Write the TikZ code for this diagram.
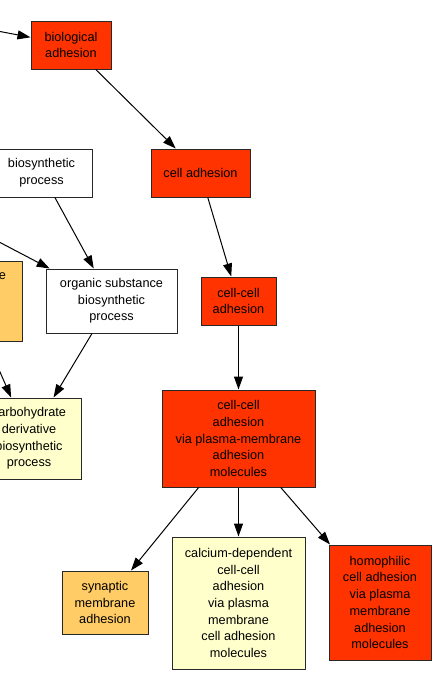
\documentclass[tikz,border=0pt]{standalone}
\usepackage{fontspec}
\setmainfont{Liberation Sans}
\usepackage{tikz}
\usetikzlibrary{arrows.meta}
\definecolor{goRed}{RGB}{255, 51, 0}
\definecolor{goOrange}{RGB}{255, 204, 102}
\definecolor{goPale}{RGB}{255, 255, 204}
\definecolor{goLine}{RGB}{40, 40, 40}

\begin{document}
\begin{tikzpicture}[
    x=1pt, y=-1pt,
    font=\fontsize{12.7}{16.7}\selectfont,
    term/.style={rectangle, draw=goLine, line width=1pt, align=center, inner sep=0pt},
    hit/.style={term, fill=goRed},
    mid/.style={term, fill=goOrange},
    low/.style={term, fill=goPale},
    none/.style={term, fill=white},
    arr/.style={-{Triangle[length=13pt, width=9pt]}, line width=1pt, black}
]
\useasboundingbox (0,0) rectangle (435,694);
\clip (0,0) rectangle (435,694);

\node[hit,  minimum width=80pt,  minimum height=48pt] (bioadh)  at (71,45)      {biological\\adhesion};
\node[hit,  minimum width=99pt,  minimum height=48pt] (celladh) at (200.5,173)  {cell adhesion};
\node[none, minimum width=101pt, minimum height=48pt] (biosyn)  at (41.5,173)   {biosynthetic\\process};
\node[none, minimum width=131pt, minimum height=64pt] (orgsub)  at (111.5,301)  {organic substance\\biosynthetic\\process};
\node[mid,  minimum width=106pt, minimum height=80pt] (carbmet) at (-31,301)    {carbohydrate\\derivative\\metabolic\\process};
\node[low,  minimum width=104pt, minimum height=81pt] (carbbio) at (29,438.5)   {carbohydrate\\derivative\\biosynthetic\\process};
\node[hit,  minimum width=75pt,  minimum height=48pt] (ccadh)   at (238.5,301)  {cell-cell\\adhesion};
\node[hit,  minimum width=153pt, minimum height=97pt] (ccpm)    at (238.5,438.5) {cell-cell\\adhesion\\via plasma-membrane\\adhesion\\molecules};
\node[mid,  minimum width=86pt,  minimum height=63pt] (synmem)  at (105,602.5)  {synaptic\\membrane\\adhesion};
\node[low,  minimum width=133pt, minimum height=132pt] (calcium) at (238.5,603) {calcium-dependent\\cell-cell\\adhesion\\via plasma\\membrane\\cell adhesion\\molecules};
\node[hit,  minimum width=102pt, minimum height=115pt] (homoph)  at (380,602.5)  {homophilic\\cell adhesion\\via plasma\\membrane\\adhesion\\molecules};

% parents outside the frame
\coordinate (adhparent) at (-100,12.5);
\coordinate (orgparent) at (-100,190);

\draw[arr] (adhparent) -- (bioadh);
\draw[arr] (bioadh) -- (celladh);
\draw[arr] (celladh) -- (ccadh);
\draw[arr] (ccadh) -- (ccpm);
\draw[arr] (biosyn) -- (orgsub);
\draw[arr] (orgparent) -- (orgsub);
\draw[arr] (orgsub) -- (carbbio);
\draw[arr] (carbmet) -- (carbbio);
\draw[arr] (ccpm) -- (synmem);
\draw[arr] (ccpm) -- (calcium);
\draw[arr] (ccpm) -- (homoph);
\end{tikzpicture}
\end{document}
